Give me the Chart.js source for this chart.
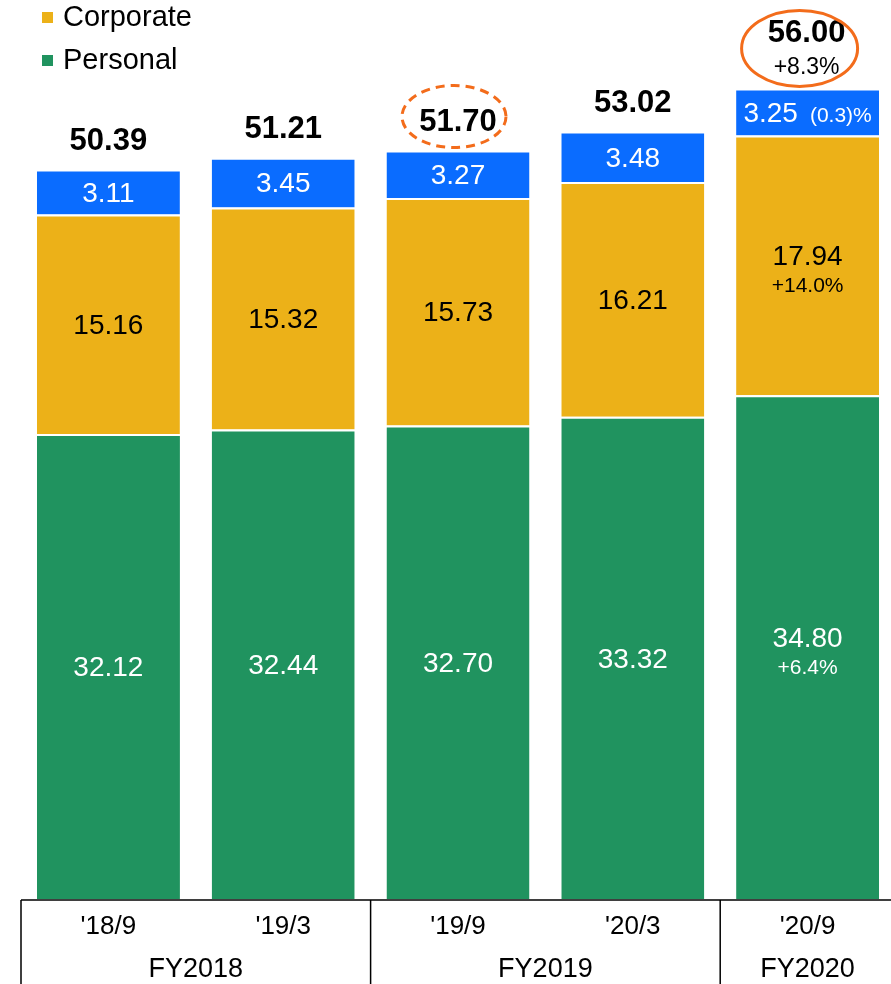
<!DOCTYPE html>
<html>
<head>
<meta charset="utf-8">
<script src="https://cdn.jsdelivr.net/npm/chart.js@4.4.1/dist/chart.umd.min.js"></script>
<style>
    html, body { margin: 0; background: #fff; overflow: hidden; }
    #wrap { width: 895px; height: 984px; position: relative; }
</style>
</head>
<body>
<div id="wrap"><canvas id="balanceChart"></canvas></div>
<script>
// values
const categories = ["'18/9", "'19/3", "'19/9", "'20/3", "'20/9"];
const fiscalYears = ["FY2018", "FY2019", "FY2020"];
const fiscalSpans = [2, 2, 1];
const personal = [32.12, 32.44, 32.70, 33.32, 34.80];
const corporate = [15.16, 15.32, 15.73, 16.21, 17.94];
const other = [3.11, 3.45, 3.27, 3.48, 3.25];
const totals = [50.39, 51.21, 51.70, 53.02, 56.00];
const personalChange = [null, null, null, null, "+6.4%"];
const corporateChange = [null, null, null, null, "+14.0%"];
const otherChange = [null, null, null, null, "(0.3)%"];
const totalChange = [null, null, null, null, "+8.3%"];

const GREEN = '#20935f';
const YELLOW = '#ecb118';
const BLUE = '#0a6cff';
const ORANGE = '#f36c1b';
const FONT = '"Liberation Sans", Arial, sans-serif';

const segmentLabels = {
    id: 'segmentLabels',
    afterDatasetsDraw(chart) {
        const ctx = chart.ctx;
        ctx.save();
        ctx.textAlign = 'center';
        ctx.textBaseline = 'middle';
        const notes = [personalChange, corporateChange, otherChange];
        chart.data.datasets.forEach((ds, di) => {
            const meta = chart.getDatasetMeta(di);
            meta.data.forEach((bar, i) => {
                const mid = (bar.y + bar.base) / 2 + 2;
                const value = ds.data[i].toFixed(2);
                const note = notes[di][i];
                ctx.fillStyle = di === 1 ? '#000' : '#fff';
                if (di === 2 && note) {
                    ctx.font = '28px ' + FONT;
                    const w1 = ctx.measureText(value).width;
                    ctx.font = '21px ' + FONT;
                    const w2 = ctx.measureText(note).width;
                    const start = bar.x - (w1 + 12 + w2) / 2;
                    ctx.textAlign = 'left';
                    ctx.font = '28px ' + FONT;
                    ctx.fillText(value, start, mid);
                    ctx.font = '21px ' + FONT;
                    ctx.fillText(note, start + w1 + 12, mid + 2);
                    ctx.textAlign = 'center';
                } else if (note) {
                    ctx.font = '28px ' + FONT;
                    ctx.fillText(value, bar.x, mid - 10);
                    ctx.font = '21px ' + FONT;
                    ctx.fillText(note, bar.x, mid + 19);
                } else {
                    ctx.font = '28px ' + FONT;
                    ctx.fillText(value, bar.x, mid);
                }
            });
        });

        // totals above each stack
        const topMeta = chart.getDatasetMeta(2);
        topMeta.data.forEach((bar, i) => {
            ctx.fillStyle = '#000';
            if (totalChange[i]) {
                ctx.font = 'bold 31px ' + FONT;
                ctx.fillText(totals[i].toFixed(2), bar.x - 1, bar.y - 55);
                ctx.font = '23px ' + FONT;
                ctx.fillText(totalChange[i], bar.x - 1, bar.y - 21);
                ctx.strokeStyle = ORANGE;
                ctx.lineWidth = 3;
                ctx.beginPath();
                ctx.ellipse(bar.x - 8, bar.y - 40, 58, 38, 0, 0, Math.PI * 2);
                ctx.stroke();
            } else {
                ctx.font = 'bold 31px ' + FONT;
                ctx.fillText(totals[i].toFixed(2), bar.x, bar.y - 28);
            }
            if (i === 2) {
                ctx.strokeStyle = ORANGE;
                ctx.lineWidth = 3;
                ctx.setLineDash([9, 6]);
                ctx.beginPath();
                ctx.ellipse(bar.x - 4, bar.y - 34, 52, 31, 0, 0, Math.PI * 2);
                ctx.stroke();
                ctx.setLineDash([]);
            }
        });
        ctx.restore();
    }
};

const axisBox = {
    id: 'axisBox',
    afterDraw(chart) {
        const ctx = chart.ctx;
        const area = chart.chartArea;
        const step = (area.right - area.left) / categories.length;
        const bottom = chart.height;
        ctx.save();
        ctx.strokeStyle = '#000';
        ctx.lineWidth = 1.5;
        ctx.beginPath();
        ctx.moveTo(area.left, area.bottom + 1);
        ctx.lineTo(area.right, area.bottom + 1);
        let idx = 0;
        const edges = [area.left];
        fiscalSpans.forEach(span => {
            idx += span;
            edges.push(area.left + idx * step);
        });
        edges.slice(0, -1).forEach(ex => {
            ctx.moveTo(ex, area.bottom + 1);
            ctx.lineTo(ex, bottom);
        });
        ctx.stroke();

        ctx.fillStyle = '#000';
        ctx.font = '27px ' + FONT;
        ctx.textAlign = 'center';
        ctx.textBaseline = 'middle';
        fiscalYears.forEach((fy, i) => {
            ctx.fillText(fy, (edges[i] + edges[i + 1]) / 2, area.bottom + 71);
        });

        // legend
        const items = [['Corporate', YELLOW, 18], ['Personal', GREEN, 61]];
        ctx.textAlign = 'left';
        ctx.font = '29px ' + FONT;
        items.forEach(([name, color, y]) => {
            ctx.fillStyle = color;
            ctx.fillRect(42, y - 6, 11, 11);
            ctx.fillStyle = '#000';
            ctx.fillText(name, 63, y);
        });
        ctx.restore();
    }
};

function makeDataset(label, data, color) {
    return {
        label: label,
        data: data,
        backgroundColor: color,
        borderColor: '#fff',
        borderWidth: { top: 2, left: 0, right: 0, bottom: 0 },
        borderSkipped: false,
        categoryPercentage: 1.0,
        barPercentage: 0.818
    };
}

new Chart(document.getElementById('balanceChart'), {
    type: 'bar',
    data: {
        labels: categories,
        datasets: [
            makeDataset('Personal', personal, GREEN),
            makeDataset('Corporate', corporate, YELLOW),
            makeDataset('Other', other, BLUE)
        ]
    },
    options: {
        responsive: true,
        maintainAspectRatio: false,
        animation: false,
        layout: { padding: { left: 21, right: 0, top: 0, bottom: 0 } },
        plugins: {
            legend: { display: false },
            tooltip: { enabled: false }
        },
        scales: {
            x: {
                stacked: true,
                grid: { display: false, drawTicks: false },
                border: { display: false },
                ticks: {
                    color: '#000',
                    font: { family: FONT, size: 26 },
                    padding: 12,
                    maxRotation: 0
                },
                afterFit(scale) { scale.height = 85; }
            },
            y: {
                stacked: true,
                display: false,
                min: 0,
                max: 62.1
            }
        }
    },
    plugins: [segmentLabels, axisBox]
});
</script>
</body>
</html>
